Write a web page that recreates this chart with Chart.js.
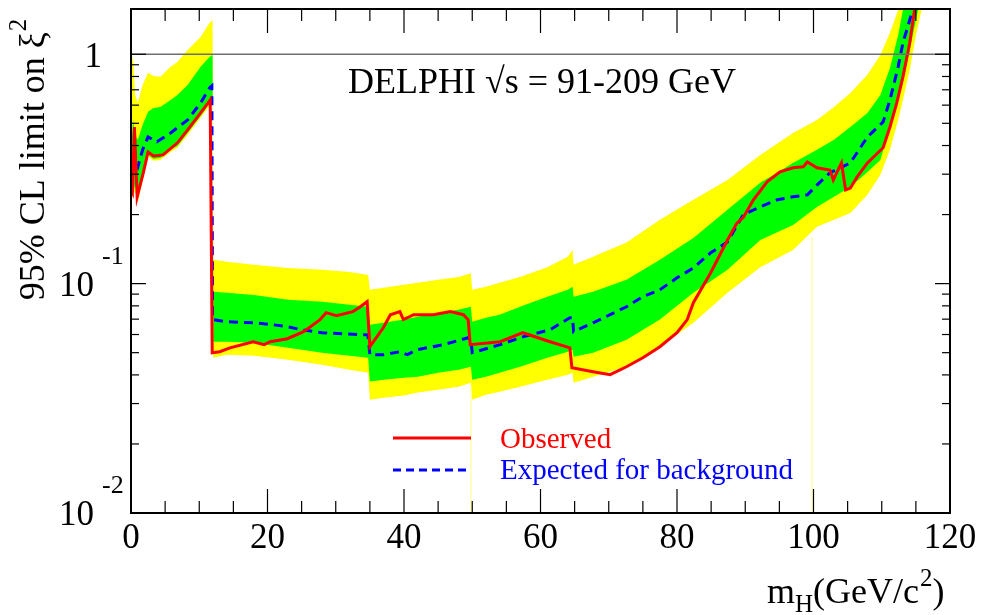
<!DOCTYPE html>
<html><head><meta charset="utf-8">
<script src="https://cdn.jsdelivr.net/npm/chart.js@4/dist/chart.umd.min.js"></script>
<style>html,body{margin:0;padding:0;background:#fff;}canvas{display:block;}</style>
</head><body>
<canvas id="c" width="983" height="615"></canvas>
<script>
// ---- data (x = m_H in GeV/c^2, y = 95% CL limit on xi^2) ----
const bandX = [
  0, 0.3, 0.6, 1.0, 1.7, 2.5, 3.3, 4.3, 5.8, 6.8, 8.3, 10.2, 11.5, 11.95,
  12.05, 14, 18, 23, 28, 32, 34.75,
  35.0, 37, 40, 42, 45, 48, 49.8,
  50.0, 52, 54, 57, 61, 64, 64.7,
  64.85, 67.7, 72.6, 77.5, 82.4, 87.4, 92.2, 97.0, 100.5, 103, 105.4, 107.9, 109.8, 111.2, 112.4, 113.1, 114.1, 115, 116, 118
];
const yellowHi = [
  0.854, 0.993, 0.665, 0.614, 0.735, 0.830, 0.804, 0.797, 0.881, 0.926, 1.044, 1.19, 1.37, 1.41,
  0.127, 0.1245, 0.121, 0.117, 0.115, 0.1125, 0.109,
  0.0940, 0.0959, 0.0988, 0.101, 0.104, 0.107, 0.111,
  0.0940, 0.0968, 0.101, 0.107, 0.118, 0.131, 0.140,
  0.121, 0.131, 0.151, 0.190, 0.232, 0.283, 0.364, 0.454, 0.517, 0.589, 0.678, 0.813, 0.993, 1.24, 1.56, 1.81, 2.33, 2.85, 3.48, 4.71
];
const greenHi = [
  0.383, 0.517, 0.445, 0.424, 0.492, 0.561, 0.583, 0.589, 0.632, 0.665, 0.735, 0.881, 0.973, 0.993,
  0.0921, 0.0912, 0.0893, 0.0851, 0.0834, 0.0809, 0.0793,
  0.0661, 0.0675, 0.0697, 0.0718, 0.0747, 0.0769, 0.0793,
  0.0682, 0.0710, 0.0732, 0.0793, 0.0877, 0.0940, 0.0968,
  0.0877, 0.0921, 0.104, 0.127, 0.158, 0.210, 0.275, 0.336, 0.383, 0.424, 0.482, 0.555, 0.665, 0.871, 1.21, 1.56, 2.11, 2.85, 3.48, 4.71
];
const greenLo = [
  0.256, 0.244, 0.269, 0.232, 0.289, 0.364, 0.350, 0.353, 0.383, 0.398, 0.454, 0.538, 0.608, 0.614,
  0.0558, 0.0558, 0.0552, 0.0525, 0.0500, 0.0485, 0.0475,
  0.0374, 0.0381, 0.0389, 0.0393, 0.0409, 0.0421, 0.0434,
  0.0381, 0.0393, 0.0409, 0.0434, 0.0475, 0.0505, 0.0515,
  0.0480, 0.0500, 0.0569, 0.0697, 0.0912, 0.115, 0.155, 0.180, 0.216, 0.239, 0.264, 0.307, 0.346, 0.482, 0.632, 0.750, 1.044, 1.41, 1.91, 3.15
];
const yellowLo = [
  0.249, 0.237, 0.256, 0.225, 0.281, 0.357, 0.343, 0.346, 0.375, 0.391, 0.445, 0.528, 0.595, 0.601,
  0.0475, 0.0490, 0.0485, 0.0466, 0.0443, 0.0421, 0.0409,
  0.0312, 0.0318, 0.0325, 0.0335, 0.0345, 0.0355, 0.0370,
  0.0312, 0.0328, 0.0338, 0.0355, 0.0381, 0.0401, 0.0409,
  0.0370, 0.0393, 0.0434, 0.0531, 0.0675, 0.0912, 0.118, 0.140, 0.177, 0.190, 0.203, 0.244, 0.298, 0.383, 0.517, 0.632, 0.854, 1.21, 1.64, 2.85
];
const expX = [0, 0.5, 1.0, 1.7, 2.5, 3.8, 5.8, 8.3, 10.2, 11.5, 11.85, 11.95, 14, 18, 21, 23, 25, 28, 31, 34.7,
  35.0, 37, 39.4, 40.5, 41.9, 45.8, 49.4, 49.8, 50.0, 54.1, 57.4, 61.4, 64.3, 64.7, 64.85, 67.7, 70.2, 72.6, 75, 77.5,
  80, 82.4, 84.9, 87.4, 89.7, 92.2, 94.7, 97.0, 99.1, 100.5, 102.4, 105.4, 107.9, 110.2, 111.2, 112.4, 113.1, 114.1, 114.7, 116];
const expY = [0.313, 0.346, 0.323, 0.383, 0.436, 0.415, 0.454, 0.517, 0.614, 0.713, 0.728, 0.0697, 0.0682, 0.0675, 0.0661, 0.0648, 0.0629, 0.0611, 0.0604, 0.0598,
  0.0490, 0.0490, 0.0505, 0.0490, 0.0515, 0.0542, 0.0581, 0.0569, 0.0500, 0.0542, 0.0586, 0.0629, 0.0710, 0.0710, 0.0617, 0.0675, 0.0732, 0.0793, 0.0877, 0.0940,
  0.106, 0.117, 0.136, 0.152, 0.1995, 0.216, 0.232, 0.239, 0.244, 0.269, 0.304, 0.336, 0.436, 0.507, 0.632, 0.881, 1.12, 1.41, 1.64, 2.58];
const obsX = [0, 0.2, 0.5, 0.9, 1.8, 2.5, 3.3, 4.7, 6.8, 8.3, 10.2, 11.4, 11.6, 11.9, 13, 14.5, 17.9, 19.5, 20.4, 22.9,
  25.3, 27.7, 28.6, 30.1, 32.5, 33.4, 34.6, 35.0, 36.97, 38.0, 39.4, 39.9, 40.5, 41.4, 44.3, 46.8, 48.7, 49.4, 49.7, 54.1,
  57.4, 61.4, 64.3, 64.6, 67.7, 70.2, 72.6, 75, 77.5, 80, 81.5, 82.4, 84.9, 87.4, 88.8, 89.7, 91.2, 93.2, 95.1, 97.0,
  98.5, 99.1, 100.5, 102.4, 102.9, 104.1, 104.7, 105.4, 106.4, 107.9, 110.2, 111.2, 112.2, 113.1, 114.1, 114.8, 116];
const obsY = [0.256, 0.249, 0.482, 0.239, 0.304, 0.375, 0.360, 0.364, 0.411, 0.468, 0.555, 0.620, 0.632, 0.0500, 0.0505, 0.0525, 0.0558, 0.0542, 0.0558, 0.0575,
  0.0617, 0.0697, 0.0747, 0.0725, 0.0755, 0.0785, 0.0834, 0.0531, 0.0642, 0.0732, 0.0755, 0.0697, 0.0710, 0.0732, 0.0732, 0.0755, 0.0732, 0.0697, 0.0542, 0.0558,
  0.0611, 0.0558, 0.0525, 0.0430, 0.0413, 0.0401, 0.0434, 0.0475, 0.0531, 0.0611, 0.0697, 0.0826, 0.111, 0.155, 0.184, 0.194, 0.232, 0.278, 0.307, 0.320,
  0.323, 0.339, 0.320, 0.313, 0.283, 0.336, 0.256, 0.261, 0.292, 0.336, 0.391, 0.482, 0.614, 0.797, 1.12, 1.56, 2.58];
// faint vertical band-edge artefacts
const edgeX = [49.8, 99.8];
const edgeTop = [0.036, 0.16];

const xMin = 0, xMax = 120, xMajorStep = 20, xMinorStep = 5;
const xTickLabels = ['0', '20', '40', '60', '80', '100', '120'];
const yMin = 0.01, yMax = 1.575;
const yTickValues = [0.01, 0.1, 1];
const yTickLabels = [['10', '-2'], ['10', '-1'], ['1', '']];
const titleText = 'DELPHI \u221As = 91-209 GeV';
const yTitle = ['95% CL limit on \u03BE', '2'];
const xTitle = ['m', 'H', '(GeV/c', '2', ')'];
const seriesLabels = ['Observed', 'Expected for background'];

const SERIF = '"Liberation Serif", "Times New Roman", "DejaVu Serif", serif';
const pts = (xs, ys) => xs.map((x, i) => ({x, y: ys[i]}));

const decor = {
  id: 'decor',
  afterDatasetsDraw(chart) {
    const {ctx, chartArea: a, scales: {x, y}} = chart;
    const line = (x1, y1, x2, y2) => { ctx.beginPath(); ctx.moveTo(x1, y1); ctx.lineTo(x2, y2); ctx.stroke(); };
    const text = (s, px, py, size, color, align) => {
      ctx.font = size + 'px ' + SERIF; ctx.fillStyle = color || '#000';
      ctx.textAlign = align || 'left'; ctx.textBaseline = 'alphabetic'; ctx.fillText(s, px, py);
      return ctx.measureText(s).width;
    };
    ctx.save();
    // y = 1 reference line
    const y1 = y.getPixelForValue(1);
    ctx.strokeStyle = '#6e6e6e'; ctx.lineWidth = 1.6;
    line(a.left, y1, a.right, y1);
    // frame
    ctx.strokeStyle = '#000'; ctx.lineWidth = 2;
    ctx.strokeRect(a.left, a.top, a.right - a.left, a.bottom - a.top);
    // x ticks
    ctx.lineWidth = 1.2;
    for (let v = xMin; v <= xMax; v += xMinorStep) {
      const px = x.getPixelForValue(v);
      const len = (v % xMajorStep === 0) ? 24 : 12;
      line(px, a.bottom, px, a.bottom - len);
      line(px, a.top, px, a.top + len);
    }
    // y ticks (log)
    for (let d = -2; d <= 0; d++) {
      for (let k = 1; k <= 9; k++) {
        const v = k * Math.pow(10, d);
        if (v < yMin - 1e-9 || v > yMax) continue;
        const py = y.getPixelForValue(v);
        const len = k === 1 ? 15 : 8;
        line(a.left, py, a.left + len, py);
        line(a.right, py, a.right - len, py);
      }
    }
    // x tick labels
    xTickLabels.forEach(l => {
      text(l, x.getPixelForValue(+l), a.bottom + 35, 35, '#000', 'center');
    });
    // y tick labels
    yTickValues.forEach((v, i) => {
      const py = y.getPixelForValue(v);
      const [base, exp] = yTickLabels[i];
      if (exp) {
        text(base, 94, py + 12, 35, '#000', 'right');
        text(exp, 102, py - 20, 26, '#000', 'left');
      } else {
        text(base, 102, py + 13, 35, '#000', 'right');
      }
    });
    // title inside plot
    text(titleText, 348, 93, 36, '#000', 'left');
    // axis titles
    let cx = 767;
    cx += text(xTitle[0], cx, 603, 36);
    cx += text(xTitle[1], cx, 612, 25);
    cx += text(xTitle[2], cx, 603, 36);
    cx += text(xTitle[3], cx + 1, 586, 25) + 1;
    text(xTitle[4], cx, 603, 36);
    ctx.save();
    ctx.translate(44, 160); ctx.rotate(-Math.PI / 2);
    ctx.font = '36px ' + SERIF;
    const w1 = ctx.measureText(yTitle[0]).width;
    ctx.font = '25px ' + SERIF;
    const w2 = ctx.measureText(yTitle[1]).width;
    const start = -(w1 + w2) / 2;
    text(yTitle[0], start, 0, 36);
    text(yTitle[1], start + w1 + 1, -18, 25);
    ctx.restore();
    // legend
    ctx.lineWidth = 3;
    ctx.strokeStyle = '#ff0000'; ctx.setLineDash([]);
    line(393, 438, 471, 438);
    ctx.strokeStyle = '#0000ff'; ctx.setLineDash([8, 5]);
    line(393, 470, 471, 470);
    ctx.setLineDash([]);
    text(seriesLabels[0], 500, 448, 29, '#ff0000');
    text(seriesLabels[1], 500, 479, 29, '#0000ff');
    ctx.restore();
  }
};

const base = {pointRadius: 0, pointHoverRadius: 0, tension: 0, borderWidth: 0};
new Chart(document.getElementById('c'), {
  type: 'line',
  data: {
    datasets: [
      {...base, label: 'yellowHi', data: pts(bandX, yellowHi), fill: 3, backgroundColor: '#ffff00', borderColor: 'rgba(0,0,0,0)', order: 10},
      {...base, label: 'greenHi', data: pts(bandX, greenHi), fill: 2, backgroundColor: '#00ff00', borderColor: 'rgba(0,0,0,0)', order: 9},
      {...base, label: 'greenLo', data: pts(bandX, greenLo), fill: false, borderColor: 'rgba(0,0,0,0)', order: 9},
      {...base, label: 'yellowLo', data: pts(bandX, yellowLo), fill: false, borderColor: 'rgba(0,0,0,0)', order: 10},
      {...base, label: seriesLabels[1], data: pts(expX, expY), fill: false, borderColor: '#0000ff', borderWidth: 3, borderDash: [9, 6], order: 2},
      {...base, label: seriesLabels[0], data: pts(obsX, obsY), fill: false, borderColor: '#ff0000', borderWidth: 3, order: 1},
      {...base, label: 'edge1', data: [{x: edgeX[0], y: edgeTop[0]}, {x: edgeX[0], y: yMin}], fill: false, borderColor: 'rgba(255,255,140,0.45)', borderWidth: 1, order: 8},
      {...base, label: 'edge2', data: [{x: edgeX[1], y: edgeTop[1]}, {x: edgeX[1], y: yMin}], fill: false, borderColor: 'rgba(255,255,140,0.45)', borderWidth: 1, order: 8}
    ]
  },
  options: {
    responsive: false,
    animation: false,
    events: [],
    layout: {padding: {left: 131, right: 33, top: 9, bottom: 102}},
    scales: {
      x: {type: 'linear', min: xMin, max: xMax, display: false},
      y: {type: 'logarithmic', min: yMin, max: yMax, display: false}
    },
    plugins: {legend: {display: false}, tooltip: {enabled: false}}
  },
  plugins: [decor]
});
</script>
</body></html>
